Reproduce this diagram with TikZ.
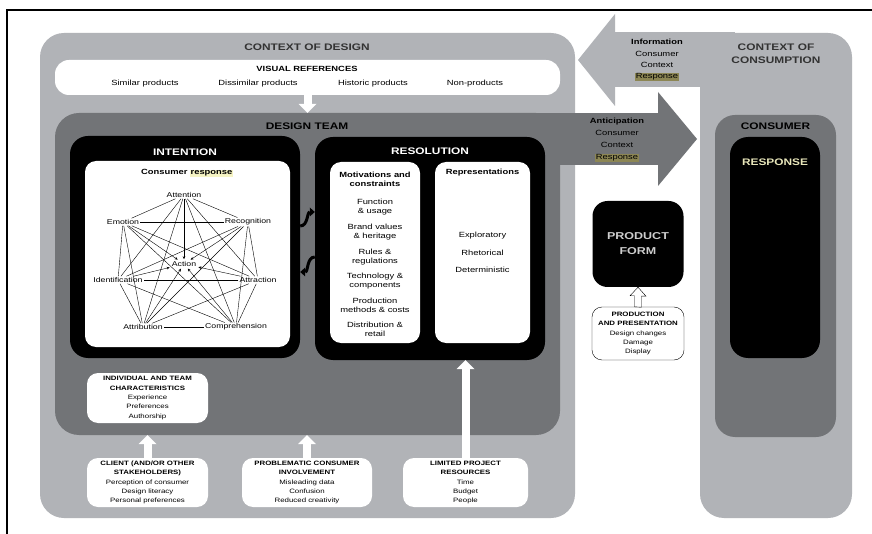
\documentclass[tikz,border=0pt]{standalone}
\usepackage{fontspec}
\setmainfont{Liberation Sans}[FakeStretch=1.25]
\usetikzlibrary{arrows.meta,calc,positioning}

\definecolor{CtxGray}{RGB}{177,179,183}
\definecolor{TeamGray}{RGB}{114,116,119}
\definecolor{HiOlive}{RGB}{140,134,84}
\definecolor{HiPale}{RGB}{246,244,196}
\definecolor{RespText}{RGB}{232,230,186}
\definecolor{FormText}{RGB}{205,205,205}
\newcommand{\hilite}[2]{{\setlength{\fboxsep}{0.5pt}\colorbox{#1}{#2}}}

\begin{document}
\begin{tikzpicture}[x=1pt,y=-1pt]
	\tikzstyle{Panel}	= [rectangle, rounded corners=24pt, inner sep=0pt]
	\tikzstyle{Slab}	= [rectangle, rounded corners=18pt, fill=black, inner sep=0pt]
	\tikzstyle{Card}	= [rectangle, rounded corners=11pt, fill=white, inner sep=0pt, align=center]
	\tikzstyle{Head}	= [font=\bfseries\fontsize{9.5}{13}\selectfont, align=center, inner sep=0pt]
	\tikzstyle{Sub}		= [font=\bfseries\fontsize{7.5}{9}\selectfont, align=center, inner sep=0pt]
	\tikzstyle{Item}	= [font=\fontsize{7.5}{9}\selectfont, align=center, inner sep=0pt]
	\tikzstyle{Small}	= [font=\fontsize{6.3}{9.4}\selectfont]
	\tikzstyle{Mood}	= [font=\fontsize{7}{8}\selectfont, inner sep=1pt]
	\tikzstyle{Link}	= [thin]
	\tikzstyle{Feed}	= [thin, -{Stealth[length=3pt,width=2.6pt]}, shorten >=1pt]
	\tikzstyle{Lift}	= [line width=8pt, white, -{Triangle[width=18pt,length=9pt,line width=0pt]}]
	\tikzstyle{Twist}	= [line width=3pt, -{Triangle[width=9pt,length=5pt,line width=0pt]}]

	\fill[white] (0,0) rectangle (872,534);
	\useasboundingbox (0,0) rectangle (872,534);
	\draw[line width=2pt] (7,534) -- (7,10) -- (872,10);

	% the two contexts
	\node (ctxd) at (307.5,275.5) [Panel, fill=CtxGray, minimum width=535pt, minimum height=485pt] {};
	\node (ctxc) at (776,275.5) [Panel, fill=CtxGray, minimum width=152pt, minimum height=485pt] {};
	\coordinate (infoTail) at (735,60);
	\coordinate (infoTip) at (578,60);
	\draw[CtxGray, line width=55pt, -{Triangle[width=92pt,length=37pt,line width=0pt]}] (infoTail) -- (infoTip);

	\node (vis) at (307.5,77.5) [Card, rounded corners=14pt, minimum width=505pt, minimum height=35pt] {};
	\node (team) at (307.5,274) [Panel, fill=TeamGray, minimum width=505pt, minimum height=322pt] {};
	\coordinate (antTail) at (530,139);
	\coordinate (antTip) at (697,139);
	\draw[TeamGray, line width=52pt, -{Triangle[width=94pt,length=39pt,line width=0pt]}] (antTail) -- (antTip);
	\draw[Lift] (vis.south) -- (vis.south |- team.north);

	\node (tDesign) at (307,47) [Head, text=black!80] {CONTEXT OF DESIGN};
	\node (tVis) at (307,69) [Sub] {VISUAL REFERENCES};
	\foreach \x/\t in {145/Similar products, 258/Dissimilar products, 373/Historic products, 475/Non-products}
		\node (vis\x) at (\x,84) [Item] {\t};
	\node (tTeam) at (307,126) [Head] {DESIGN TEAM};
	\node (tInfo) at (657,60) [Item, font=\fontsize{7.5}{11.3}\selectfont] {\textbf{Information}\\Consumer\\Context\\\hilite{HiOlive}{Response}};
	\node (tAnt) at (617,140) [Item, font=\fontsize{7.5}{12}\selectfont] {\textbf{Anticipation}\\Consumer\\Context\\\hilite{HiOlive}{Response}};
	\node (tConsum) at (776,54) [Head, text=black!80] {CONTEXT OF\\CONSUMPTION};

	% intention
	\node (intent) at (185,247) [Slab, minimum width=230pt, minimum height=222pt] {};
	\node (mood) at (187.5,254) [Card, minimum width=205pt, minimum height=186pt] {};
	\node (tIntent) at (185,152) [Head, white] {INTENTION};
	\node (tMood) at (187,173) [Sub] {Consumer \hilite{HiPale}{response}};
	\foreach \n/\x/\y/\t in {a1/184/195/Attention, a2/248/222/Recognition, a3/258/280/Attraction,
			a4/236/327/Comprehension, a5/143/327/Attribution, a6/118/280/Identification, a7/123/222/Emotion}
		\node (\n) at (\x,\y) [Mood] {\t};
	\node (act) at (184,264) [Mood] {Action};
	\foreach \a/\b in {1/2, 1/3, 1/4, 1/5, 1/6, 1/7, 2/3, 2/4, 2/5, 2/6, 2/7, 3/4, 3/5, 3/6, 3/7,
			4/5, 4/6, 4/7, 5/6, 5/7, 6/7}
		\draw [Link] (a\a) to (a\b);
	\foreach \a in {1,...,7}
		\draw [Feed] (a\a) to (act);

	% resolution
	\node (resol) at (430,248.5) [Slab, minimum width=230pt, minimum height=223pt] {};
	\node (motiv) at (375,252.5) [Card, minimum width=90pt, minimum height=181pt] {};
	\node (repr) at (482.5,252.5) [Card, minimum width=95pt, minimum height=181pt] {};
	\node (tResol) at (430,151) [Head, white] {RESOLUTION};
	\node (tMotiv) at (375,179) [Sub] {Motivations and\\constraints};
	\foreach \t/\y in {{Function\\\& usage}/207.5, {Brand values\\\& heritage}/232.5, {Rules \&\\regulations}/257,
			{Technology \&\\components}/281.5, {Production\\methods \& costs}/305.5, {Distribution \&\\retail}/329.5}
		\node at (375,\y) [Item] {\t};
	\node (tRepr) at (482.5,173) [Sub] {Representations};
	\foreach \t/\y in {Exploratory/236, Rhetorical/253, Deterministic/270}
		\node at (482.5,\y) [Item] {\t};
	\draw[Twist] (intent.east |- 0,226) to[out=0,in=180] (resol.west |- 0,212);
	\draw[Twist] (resol.west |- 0,257) to[out=180,in=0] (intent.east |- 0,272);

	% team and project inputs
	\node (indiv) at (147.5,398) [Card, Small, minimum width=121pt, minimum height=50pt] {\textbf{INDIVIDUAL AND TEAM}\\\textbf{CHARACTERISTICS}\\Experience\\Preferences\\Authorship};
	\node (client) at (147.5,482.5) [Card, Small, minimum width=121pt, minimum height=49pt] {\textbf{CLIENT (AND/OR OTHER}\\\textbf{STAKEHOLDERS)}\\Perception of consumer\\Design literacy\\Personal preferences};
	\node (probl) at (307,482.5) [Card, Small, minimum width=130pt, minimum height=49pt] {\textbf{PROBLEMATIC CONSUMER}\\\textbf{INVOLVEMENT}\\Misleading data\\Confusion\\Reduced creativity};
	\node (limit) at (465.5,482.5) [Card, Small, minimum width=125pt, minimum height=49pt] {\textbf{LIMITED PROJECT}\\\textbf{RESOURCES}\\Time\\Budget\\People};
	\draw[Lift] (client.north) -- (client.north |- team.south);
	\draw[Lift] (probl.north) -- (probl.north |- team.south);
	\draw[Lift] (limit.north) -- (limit.north |- resol.south);

	% product form
	\node (form) at (638,244) [Slab, rounded corners=15pt, minimum width=91pt, minimum height=86pt] {};
	\node (tForm) at (638,244) [Head, text=FormText, font=\bfseries\fontsize{10}{15}\selectfont] {PRODUCT\\FORM};
	\node (prod) at (638,333.5) [Card, Small, draw, thin, rounded corners=10pt, minimum width=92pt, minimum height=53pt] {\textbf{PRODUCTION}\\\textbf{AND PRESENTATION}\\Design changes\\Damage\\Display};
	\draw[fill=white, thin] ($(prod.north)+(-3.5,0)$) -- ++(0,-11) -- ++(-4.5,0) -- (form.south) -- ++(8,9) -- ++(-4.5,0) -- ++(0,11) -- cycle;

	% consumer
	\node (consumer) at (775.5,276) [Panel, rounded corners=20pt, fill=TeamGray, minimum width=121pt, minimum height=322pt] {};
	\node (resp) at (775,247.5) [Slab, minimum width=90pt, minimum height=221pt] {};
	\node (tConsumer) at (775.5,126) [Head] {CONSUMER};
	\node (tResp) at (775,162) [Head, text=RespText] {RESPONSE};
\end{tikzpicture}
\end{document}
